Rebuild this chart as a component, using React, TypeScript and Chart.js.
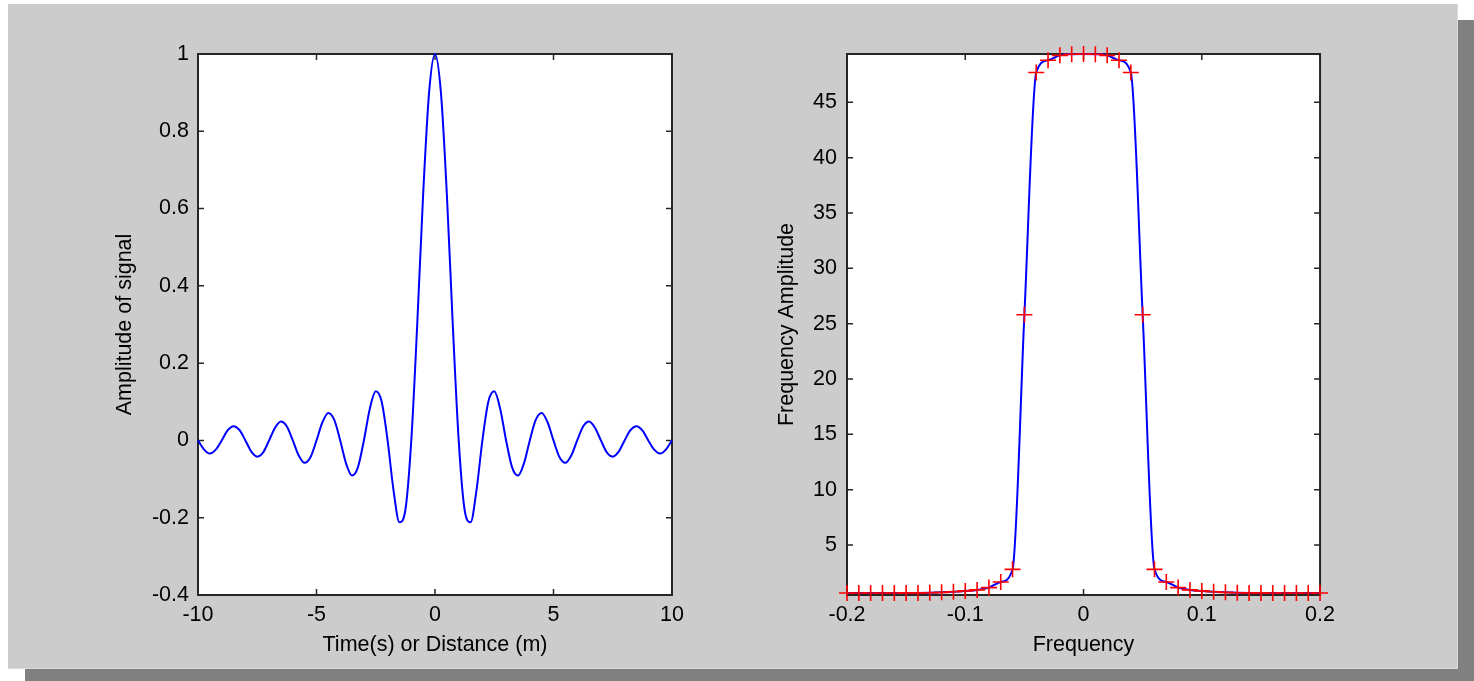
import React, { useEffect, useRef } from 'react';
import { Chart, registerables } from 'chart.js';

Chart.register(...registerables);

// ---------- Left subplot: signal in time / space ----------
const leftX = [
  -10, -9.75, -9.5, -9.25, -9, -8.75, -8.5, -8.25, -8, -7.75, -7.5, -7.25, -7, -6.75, -6.5, -6.25,
  -6, -5.75, -5.5, -5.25, -5, -4.75, -4.5, -4.25, -4, -3.75, -3.5, -3.25, -3, -2.75, -2.5, -2.25,
  -2, -1.75, -1.5, -1.25, -1, -0.75, -0.5, -0.25, 0, 0.25, 0.5, 0.75, 1, 1.25, 1.5, 1.75,
  2, 2.25, 2.5, 2.75, 3, 3.25, 3.5, 3.75, 4, 4.25, 4.5, 4.75, 5, 5.25, 5.5, 5.75,
  6, 6.25, 6.5, 6.75, 7, 7.25, 7.5, 7.75, 8, 8.25, 8.5, 8.75, 9, 9.25, 9.5, 9.75, 10,
];
const leftSignal = [
  0, -0.023, -0.034, -0.024, 0, 0.026, 0.037, 0.027, 0, -0.029, -0.042, -0.031, 0, 0.033, 0.049, 0.036,
  0, -0.039, -0.058, -0.043, 0, 0.047, 0.071, 0.053, 0, -0.06, -0.091, -0.069, 0, 0.082, 0.127, 0.1,
  0, -0.129, -0.212, -0.18, 0, 0.3, 0.637, 0.9, 1, 0.9, 0.637, 0.3, 0, -0.18, -0.212, -0.129,
  0, 0.1, 0.127, 0.082, 0, -0.069, -0.091, -0.06, 0, 0.053, 0.071, 0.047, 0, -0.043, -0.058, -0.039,
  0, 0.036, 0.049, 0.033, 0, -0.031, -0.042, -0.029, 0, 0.027, 0.037, 0.026, 0, -0.024, -0.034, -0.023, 0,
];
const leftXTicks = [-10, -5, 0, 5, 10];
const leftYTicks = [-0.4, -0.2, 0, 0.2, 0.4, 0.6, 0.8, 1];

// ---------- Right subplot: frequency amplitude ----------
const rightFreq = [
  -0.2, -0.19, -0.18, -0.17, -0.16, -0.15, -0.14, -0.13, -0.12, -0.11, -0.1, -0.09, -0.08, -0.07,
  -0.06, -0.05, -0.04, -0.03, -0.02, -0.01, 0, 0.01, 0.02, 0.03, 0.04, 0.05, 0.06, 0.07, 0.08,
  0.09, 0.1, 0.11, 0.12, 0.13, 0.14, 0.15, 0.16, 0.17, 0.18, 0.19, 0.2,
];
const rightAmp = [
  0.66, 0.66, 0.66, 0.66, 0.66, 0.67, 0.67, 0.68, 0.72, 0.78, 0.85, 0.94, 1.15, 1.65,
  2.8, 25.8, 47.7, 48.8, 49.25, 49.35, 49.37, 49.35, 49.25, 48.8, 47.7, 25.8, 2.8, 1.65, 1.15,
  0.94, 0.85, 0.78, 0.72, 0.68, 0.67, 0.67, 0.66, 0.66, 0.66, 0.66, 0.66,
];
const rightXTicks = [-0.2, -0.1, 0, 0.1, 0.2];
const rightYTicks = [5, 10, 15, 20, 25, 30, 35, 40, 45];

const FONT = { family: "'Liberation Sans', Arial, Helvetica, sans-serif", size: 21.5 };
const TEXT = '#000000';
const FRAME = '#262626';

const framePlugin = {
  id: 'matlabFrame',
  beforeDraw(chart: any) {
    const { ctx, chartArea: a } = chart;
    ctx.save();
    ctx.fillStyle = '#ffffff';
    ctx.fillRect(a.left, a.top, a.right - a.left, a.bottom - a.top);
    ctx.restore();
  },
  beforeDatasetsDraw(chart: any) {
    const { ctx, chartArea: a, scales } = chart;
    const xs = scales.x;
    const ys = scales.y;
    const len = 6;
    ctx.save();
    ctx.strokeStyle = FRAME;
    ctx.lineWidth = 1.5;
    ctx.beginPath();
    for (const t of xs.ticks) {
      const p = xs.getPixelForValue(t.value);
      ctx.moveTo(p, a.bottom);
      ctx.lineTo(p, a.bottom - len);
      ctx.moveTo(p, a.top);
      ctx.lineTo(p, a.top + len);
    }
    for (const t of ys.ticks) {
      const p = ys.getPixelForValue(t.value);
      ctx.moveTo(a.left, p);
      ctx.lineTo(a.left + len, p);
      ctx.moveTo(a.right, p);
      ctx.lineTo(a.right - len, p);
    }
    ctx.stroke();
    ctx.lineWidth = 2;
    ctx.strokeRect(a.left, a.top, a.right - a.left, a.bottom - a.top);
    ctx.restore();
  },
};

function axis(opts: {
  min: number;
  max: number;
  ticks: number[];
  title: string;
  fitSize: number;
  horizontal: boolean;
  titlePad: number;
  tickPad: number;
}) {
  return {
    type: 'linear',
    min: opts.min,
    max: opts.max,
    afterBuildTicks: (s: any) => {
      s.ticks = opts.ticks.map((v) => ({ value: v }));
    },
    afterFit: (s: any) => {
      if (opts.horizontal) s.height = opts.fitSize;
      else s.width = opts.fitSize;
    },
    grid: { display: false, drawTicks: false },
    border: { display: false },
    ticks: {
      padding: opts.tickPad,
      font: FONT,
      color: TEXT,
      maxRotation: 0,
      autoSkip: false,
      callback: (v: number) => String(v),
    },
    title: {
      display: true,
      text: opts.title,
      font: FONT,
      color: TEXT,
      padding: opts.horizontal ? { top: 0, bottom: opts.titlePad } : { top: opts.titlePad, bottom: 0 },
    },
  };
}

function leftConfig(): any {
  return {
    type: 'line',
    data: {
      datasets: [
        {
          data: leftX.map((x, i) => ({ x, y: leftSignal[i] })),
          borderColor: '#0000ff',
          borderWidth: 2,
          pointRadius: 0,
          cubicInterpolationMode: 'monotone',
          clip: false,
        },
      ],
    },
    options: {
      responsive: false,
      animation: false,
      events: [],
      layout: { padding: { top: 24, right: 20, left: 0, bottom: 0 } },
      plugins: { legend: { display: false }, tooltip: { enabled: false } },
      scales: {
        x: axis({ min: -10, max: 10, ticks: leftXTicks, title: 'Time(s) or Distance (m)', fitSize: 75, horizontal: true, titlePad: 12, tickPad: 7 }),
        y: axis({ min: -0.4, max: 1, ticks: leftYTicks, title: 'Amplitude of signal', fitSize: 98, horizontal: false, titlePad: 12, tickPad: 9 }),
      },
    },
    plugins: [framePlugin],
  };
}

function rightConfig(): any {
  return {
    type: 'line',
    data: {
      datasets: [
        {
          data: rightFreq.map((x, i) => ({ x, y: rightAmp[i] })),
          showLine: false,
          pointStyle: 'cross',
          pointRadius: 8,
          pointBorderWidth: 1.6,
          pointBorderColor: '#ff0000',
          borderColor: '#ff0000',
          clip: false,
        },
        {
          data: rightFreq.map((x, i) => ({ x, y: rightAmp[i] })),
          borderColor: '#0000ff',
          borderWidth: 2,
          pointRadius: 0,
          cubicInterpolationMode: 'monotone',
          clip: false,
        },
      ],
    },
    options: {
      responsive: false,
      animation: false,
      events: [],
      layout: { padding: { top: 24, right: 21, left: 0, bottom: 0 } },
      plugins: { legend: { display: false }, tooltip: { enabled: false } },
      scales: {
        x: axis({ min: -0.2, max: 0.2, ticks: rightXTicks, title: 'Frequency', fitSize: 75, horizontal: true, titlePad: 12, tickPad: 7 }),
        y: axis({ min: 0.48, max: 49.37, ticks: rightYTicks, title: 'Frequency Amplitude', fitSize: 97, horizontal: false, titlePad: 24, tickPad: 10 }),
      },
    },
    plugins: [framePlugin],
  };
}

export default function App() {
  const leftRef = useRef<HTMLCanvasElement>(null);
  const rightRef = useRef<HTMLCanvasElement>(null);

  useEffect(() => {
    const charts: Chart[] = [];
    if (leftRef.current) charts.push(new Chart(leftRef.current, leftConfig()));
    if (rightRef.current) charts.push(new Chart(rightRef.current, rightConfig()));
    return () => charts.forEach((c) => c.destroy());
  }, []);

  return (
    <div style={{ position: 'fixed', left: 0, top: 0, width: 1474, height: 681, background: '#ffffff', overflow: 'hidden' }}>
      <div style={{ position: 'absolute', left: 25, top: 20, width: 1449, height: 661, background: '#808080' }} />
      <div
        style={{
          position: 'absolute',
          left: 8,
          top: 4,
          width: 1449,
          height: 664,
          background: '#cccccc',
          borderRight: '1px solid #dadada',
          borderBottom: '1px solid #dadada',
        }}
      />
      <canvas ref={leftRef} width={592} height={640} style={{ position: 'absolute', left: 100, top: 30, width: 592, height: 640 }} />
      <canvas ref={rightRef} width={592} height={640} style={{ position: 'absolute', left: 750, top: 30, width: 592, height: 640 }} />
    </div>
  );
}
